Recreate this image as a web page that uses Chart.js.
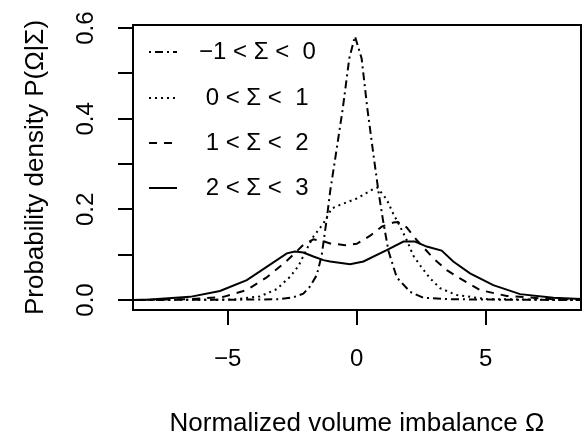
<!DOCTYPE html>
<html>
<head>
<meta charset="utf-8">
<script src="https://cdn.jsdelivr.net/npm/chart.js@4.4.1/dist/chart.umd.min.js"></script>
<style>
    html, body { margin: 0; padding: 0; background: #fff; }
    #wrap { width: 582px; height: 442px; }
</style>
</head>
<body>
<div id="wrap"><canvas id="density-chart" width="582" height="442"></canvas></div>
<script>
// Sigma bins (legend labels)
const seriesLabels = ['\u22121 < \u03A3 <  0', ' 0 < \u03A3 <  1', ' 1 < \u03A3 <  2', ' 2 < \u03A3 <  3'];

// -1 < Sigma < 0 (dot-dash)
const omegaA = [-8.7, -4.0, -3.0, -2.46, -2.07, -1.81, -1.55, -1.36, -1.16, -1.03, -0.84, -0.54, -0.29, -0.07, 0.19, 0.41, 0.64, 0.84, 1.03, 1.23, 1.55, 2.07, 2.58, 3.5, 5.0, 8.7];
const densA = [0.0, 0.001, 0.002, 0.006, 0.014, 0.03, 0.055, 0.098, 0.18, 0.24, 0.31, 0.423, 0.533, 0.582, 0.533, 0.423, 0.324, 0.24, 0.172, 0.108, 0.05, 0.018, 0.005, 0.002, 0.001, 0.0];

// 0 < Sigma < 1 (dotted)
const omegaB = [-8.7, -4.8, -3.75, -3.1, -2.84, -2.59, -2.26, -1.94, -1.68, -1.29, -0.97, -0.65, 0.0, 0.58, 0.8, 1.16, 1.42, 1.68, 1.94, 2.19, 2.45, 2.84, 3.23, 3.88, 5.04, 8.7];
const densB = [0.0, 0.001, 0.008, 0.024, 0.038, 0.051, 0.075, 0.112, 0.14, 0.169, 0.202, 0.21, 0.224, 0.243, 0.248, 0.222, 0.19, 0.162, 0.132, 0.098, 0.077, 0.048, 0.026, 0.011, 0.002, 0.0];

// 1 < Sigma < 2 (dashed)
const omegaC = [-8.7, -7.6, -6.46, -5.17, -4.26, -3.49, -2.84, -2.46, -2.07, -1.68, -1.3, -1.03, -0.45, 0.0, 0.52, 0.97, 1.42, 1.6, 1.94, 2.33, 2.97, 3.49, 4.0, 4.78, 5.81, 7.6, 8.7];
const densC = [0.0, 0.001, 0.002, 0.007, 0.022, 0.05, 0.08, 0.1, 0.122, 0.134, 0.13, 0.125, 0.121, 0.124, 0.142, 0.162, 0.171, 0.172, 0.16, 0.132, 0.092, 0.066, 0.048, 0.022, 0.009, 0.002, 0.001];

// 2 < Sigma < 3 (solid)
const omegaD = [-8.7, -8.0, -6.46, -5.3, -4.26, -3.49, -2.71, -2.4, -2.07, -1.68, -1.29, -1.03, -0.26, 0.26, 1.16, 1.81, 2.26, 2.71, 3.29, 3.74, 4.39, 5.29, 6.33, 7.62, 8.7];
const densD = [0.0, 0.001, 0.007, 0.02, 0.044, 0.073, 0.103, 0.107, 0.105, 0.096, 0.088, 0.085, 0.079, 0.085, 0.11, 0.129, 0.129, 0.118, 0.109, 0.085, 0.059, 0.033, 0.013, 0.005, 0.002];

// Axis ticks
const xTicks = [-5, 0, 5];
const yTicks = [0, 0.1, 0.2, 0.3, 0.4, 0.5, 0.6];
const yTickLabels = ['0.0', '0.2', '0.4', '0.6'];
const yLabelValues = [0, 0.2, 0.4, 0.6];

const FONT = "'Liberation Sans', Arial, Helvetica, sans-serif";
const dashes = [[2, 4, 8, 4], [2, 4], [8, 7], []];

const toPoints = (xs, ys) => xs.map((x, i) => ({ x: x, y: ys[i] }));
const allX = [omegaA, omegaB, omegaC, omegaD];
const allY = [densA, densB, densC, densD];

// box, rotated y tick labels and legend (R style)
const rStyle = {
    id: 'rStyle',
    afterDraw(chart) {
        const ctx = chart.ctx;
        const area = chart.chartArea;
        const yScale = chart.scales.y;
        ctx.save();
        ctx.strokeStyle = '#000';
        ctx.lineWidth = 2;
        ctx.setLineDash([]);
        ctx.strokeRect(area.left, area.top, area.right - area.left, area.bottom - area.top);

        ctx.fillStyle = '#000';
        ctx.font = '24px ' + FONT;
        ctx.textAlign = 'center';
        ctx.textBaseline = 'middle';
        yLabelValues.forEach((v, i) => {
            ctx.save();
            ctx.translate(86, yScale.getPixelForValue(v));
            ctx.rotate(-Math.PI / 2);
            ctx.fillText(yTickLabels[i], 0, 0);
            ctx.restore();
        });

        // legend
        const rowY = [52, 98, 143, 188];
        ctx.textAlign = 'left';
        chart.data.datasets.forEach((ds, i) => {
            ctx.beginPath();
            ctx.lineWidth = 2;
            ctx.setLineDash(ds.borderDash);
            ctx.moveTo(149, rowY[i]);
            ctx.lineTo(177, rowY[i]);
            ctx.stroke();
            ctx.setLineDash([]);
            ctx.fillText(ds.label, 199, rowY[i]);
        });
        ctx.restore();
    }
};

const ctx = document.getElementById('density-chart').getContext('2d');
new Chart(ctx, {
    type: 'line',
    data: {
        datasets: seriesLabels.map((label, i) => ({
            label: label,
            data: toPoints(allX[i], allY[i]),
            borderColor: '#000',
            borderWidth: 2,
            borderDash: dashes[i],
            pointRadius: 0,
            tension: 0,
            fill: false
        }))
    },
    options: {
        responsive: false,
        animation: false,
        devicePixelRatio: 1,
        layout: { padding: { top: 25, right: 1, left: 0, bottom: 0 } },
        plugins: {
            legend: { display: false },
            tooltip: { enabled: false }
        },
        scales: {
            x: {
                type: 'linear',
                min: -8.67,
                max: 8.69,
                afterBuildTicks: s => { s.ticks = xTicks.map(v => ({ value: v })); },
                afterFit: s => { s.height = 132; },
                grid: { drawOnChartArea: false, drawTicks: true, tickLength: 15, color: '#000', lineWidth: 2 },
                border: { display: false },
                ticks: {
                    color: '#000',
                    font: { size: 24, family: FONT },
                    padding: 20,
                    maxRotation: 0,
                    callback: v => (v < 0 ? '\u2212' + Math.abs(v) : String(v))
                },
                title: {
                    display: true,
                    text: 'Normalized volume imbalance \u03A9',
                    color: '#000',
                    font: { size: 26, family: FONT },
                    padding: { top: 0, bottom: 3 }
                }
            },
            y: {
                type: 'linear',
                min: -0.022,
                max: 0.607,
                afterBuildTicks: s => { s.ticks = yTicks.map(v => ({ value: v })); },
                afterFit: s => { s.width = 133; },
                grid: { drawOnChartArea: false, drawTicks: true, tickLength: 15, color: '#000', lineWidth: 2 },
                border: { display: false },
                ticks: { display: false },
                title: {
                    display: true,
                    text: 'Probability density P(\u03A9|\u03A3)',
                    color: '#000',
                    font: { size: 26, family: FONT },
                    padding: { top: 20, bottom: 0 }
                }
            }
        }
    },
    plugins: [rStyle]
});
</script>
</body>
</html>
